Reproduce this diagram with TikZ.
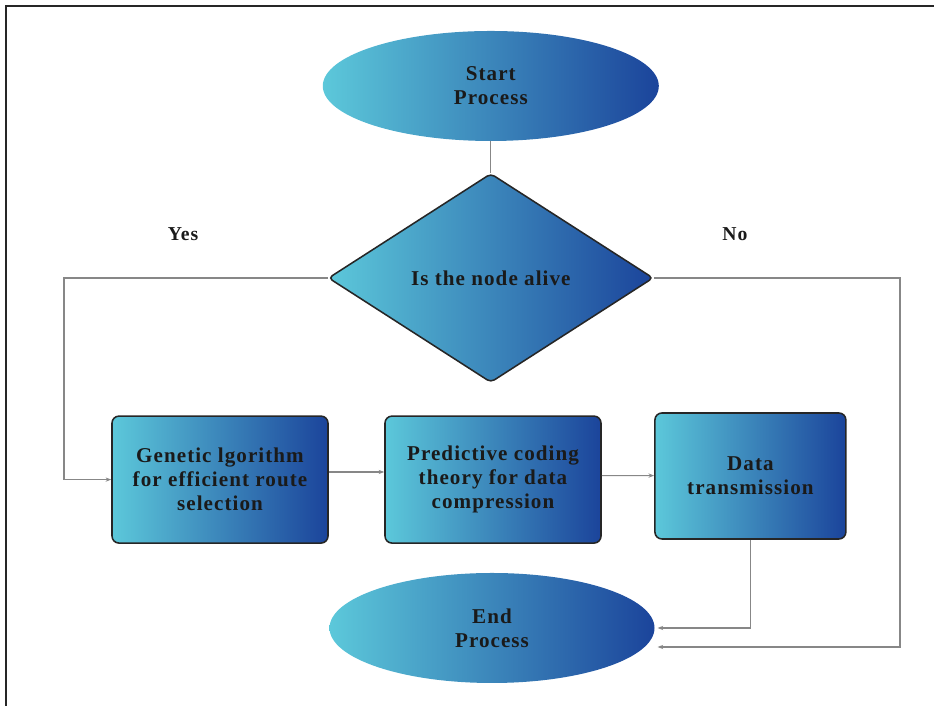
\documentclass[tikz,border=0pt]{standalone}
\usepackage{fontspec}
\setmainfont{Liberation Serif}[LetterSpace=5]
\usepackage{tikz}
\usetikzlibrary{arrows.meta,positioning,shapes.geometric,calc}

\definecolor{gradL}{RGB}{92,200,218}
\definecolor{gradM}{RGB}{38,142,204}
\definecolor{gradR}{RGB}{27,68,155}
\definecolor{txtdark}{RGB}{26,26,26}
\definecolor{linegray}{RGB}{135,135,135}

\begin{document}
\begin{tikzpicture}[
    grad/.style={left color=gradL, middle color=gradM, right color=gradR},
    term/.style={ellipse, grad, draw=none, minimum width=8.4cm, minimum height=2.75cm, align=center, font=\fontsize{15}{17}\selectfont\bfseries, text=txtdark},
    decide/.style={diamond, grad, draw=black!85, line width=1.1pt, rounded corners=3pt, minimum width=8.125cm, minimum height=5.225cm, inner sep=0pt, align=center, font=\fontsize{15}{17}\selectfont\bfseries, text=txtdark},
    proc/.style={rectangle, grad, draw=black!85, line width=1.1pt, rounded corners=5pt, minimum width=5.4cm, minimum height=3.175cm, align=center, font=\fontsize{15}{17}\selectfont\bfseries, text=txtdark},
    conn/.style={-{Stealth[length=4pt,width=3pt]}, line width=0.8pt, draw=linegray},
    plain/.style={line width=0.8pt, draw=linegray},
    lbl/.style={font=\fontsize{14}{16.5}\selectfont\bfseries, text=txtdark},
    frame/.style={line width=1.1pt, draw=black!85}
]
\useasboundingbox (0,0) rectangle (23.35,17.65);
\draw[frame] (0.15,0) -- (0.15,17.5) -- (23.35,17.5);

% --- Top: start and decision ---
\node[term]   (start) at (12.27,15.5) {Start\\Process};
\node[decide] (alive) at (12.27,10.7)  {Is the node alive};

% --- Middle row: process boxes ---
\node[proc] (genalg) at (5.5,5.66)   {Genetic lgorithm\\for efficient route\\selection};
\node[proc] (pcode)  at (12.325,5.66) {Predictive coding\\theory for data\\compression};
\node[proc, minimum width=4.775cm, minimum height=3.15cm] (trans) at (18.76,5.75) {Data\\transmission};

% --- Bottom: end ---
\node[term, minimum width=8.125cm] (finish) at (12.3,1.95) {End\\Process};

% --- Branch labels ---
\node[lbl] (yes) at (4.575,11.8)  {Yes};
\node[lbl] (no)  at (18.375,11.8) {No};

% --- Turning points ---
\coordinate (yesturn) at (1.6,10.7);
\coordinate (noturn)  at (22.5,10.7);

% === Connections ===
\draw[plain] (start.south) -- (alive.north);
\draw[conn] (alive.west) -- (yesturn) |- (genalg.west);
\draw[conn] ([yshift=0.19cm]genalg.east) -- ([yshift=0.19cm]pcode.west);
\draw[conn] ([yshift=0.1cm]pcode.east) -- ([yshift=0.01cm]trans.west);
\draw[conn, shorten >=2pt] (trans.south) |- (finish.east);
\draw[conn, shorten >=2pt] (alive.east) -- (noturn) |- ([yshift=-0.475cm]finish.east);
\end{tikzpicture}
\end{document}
